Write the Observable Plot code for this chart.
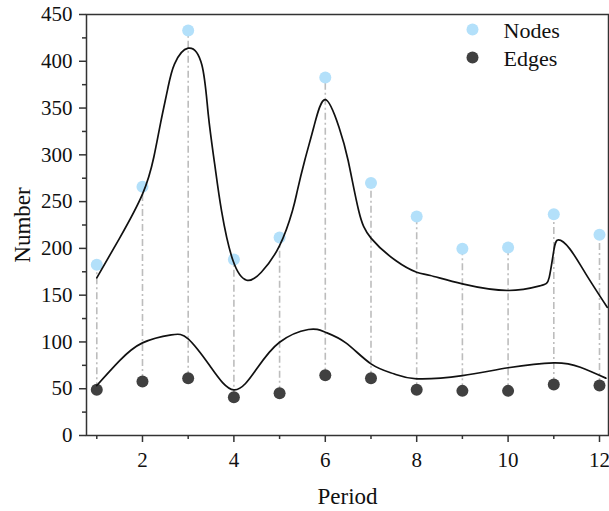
<!DOCTYPE html>
<html><head><meta charset="utf-8">
<script src="https://cdn.jsdelivr.net/npm/d3@7"></script>
<script src="https://cdn.jsdelivr.net/npm/@observablehq/plot@0.6"></script>
<style>body{margin:0;background:#fff} svg text{font-family:'Liberation Serif','Times New Roman',serif !important;}</style>
</head><body><div id="chart"></div>
<script>
const periods = [1,2,3,4,5,6,7,8,9,10,11,12];
const nodes = [182.5,266,433,188,211.6,382.6,270,234,199.5,201,236.5,214.5];
const edges = [48.8,57.7,61.3,41,45.2,64.5,61.3,48.8,47.7,47.7,54.5,53.4];

// fitted curves
const nodeFitX = [1,1.5,2,2.25,2.4,2.55,2.7,3,3.3,3.44,3.58,3.73,3.98,4.28,4.6,5.0,5.28,5.39,5.55,5.75,6,6.3,6.5,6.73,7.0,7.54,8,8.3,9,10,10.7,10.9,11,11.1,11.35,11.7,12.17];
const nodeFitY = [168.5,211,258,298,335,370,397,414,396,343,290,240,187,166,174.5,203,240,262,294,330,359,329.5,294,240.5,211,187,174.5,171,162,155,160,169,197.7,209,199.5,172.8,137];
const edgeFitX = [1,1.5,2,2.63,3,3.47,4,4.5,5,5.63,6,6.45,7,7.5,8,9,10,11,11.58,12.14];
const edgeFitY = [53.4,80,99,107.6,103.3,74.8,48.8,71.3,99.7,113.3,110.4,99,76.6,66,60.6,64,72.4,77.7,73,61.3];

const yMajor = [0,50,100,150,200,250,300,350,400,450];
const yMinor = [25,75,125,175,225,275,325,375,425];
const xMajor = [2,4,6,8,10,12];
const xMinor = [1,3,5,7,9,11];

const seriesNames = ["Nodes","Edges"];
const seriesColors = ["#b3e0fa","#404040"];

const data = periods.map((p,i)=>({period:p, nodes:nodes[i], edges:edges[i]}));
const nodeFit = nodeFitX.map((x,i)=>({x, y:nodeFitY[i]}));
const edgeFit = edgeFitX.map((x,i)=>({x, y:edgeFitY[i]}));

const serif = "Liberation Serif";
const tickStyle = {stroke:"#333", strokeWidth:1.5, tickFormat:()=>"", label:null};
const legendMarks = seriesNames.flatMap((name,i)=>[
  Plot.dot([name],{frameAnchor:"top-right", dx:-136, dy:15+28*i, r:6, fill:seriesColors[i], stroke:null}),
  Plot.text([name],{frameAnchor:"top-right", dx:-105, dy:16+28*i, text:d=>d, textAnchor:"start", lineAnchor:"middle", fontSize:22, fontFamily:serif, fill:"#111"})
]);

const plot = Plot.plot({
  width:609, height:511,
  marginLeft:86, marginRight:1, marginTop:14, marginBottom:76,
  style:{fontFamily:serif, fontSize:"21px", color:"#111", background:"#fff", overflow:"visible"},
  x:{domain:[0.775,12.197]},
  y:{domain:[0,450]},
  marks:[
    Plot.ruleX(data,{x:"period", y1:"edges", y2:"nodes", stroke:"#bdbdbd", strokeWidth:1.6, strokeDasharray:"7,3,2,3"}),
    Plot.dot(data,{x:"period", y:"nodes", r:6, fill:seriesColors[0], stroke:null}),
    Plot.dot(data,{x:"period", y:"edges", r:6, fill:seriesColors[1], stroke:null}),
    Plot.line(nodeFit,{x:"x", y:"y", curve:"natural", stroke:"#111", strokeWidth:1.7}),
    Plot.line(edgeFit,{x:"x", y:"y", curve:"natural", stroke:"#111", strokeWidth:1.7}),
    Plot.frame({stroke:"#333", strokeWidth:1.5}),
    Plot.axisY({ticks:yMajor, tickSize:7, ...tickStyle}),
    Plot.axisY({ticks:yMinor, tickSize:4, ...tickStyle}),
    Plot.axisX({ticks:xMajor, tickSize:7, ...tickStyle}),
    Plot.axisX({ticks:xMinor, tickSize:4, ...tickStyle}),
    Plot.axisY({ticks:yMajor, tickSize:0, tickPadding:14, label:null, fontSize:21, fontFamily:serif, fontVariant:"normal", fill:"#111", stroke:null}),
    Plot.axisX({ticks:xMajor, tickSize:0, tickPadding:17, label:null, fontSize:21, fontFamily:serif, fontVariant:"normal", fill:"#111", stroke:null}),
    Plot.text(["Number"],{frameAnchor:"left", dx:-64, rotate:-90, text:d=>d, fontSize:23, fontFamily:serif, fill:"#111", lineAnchor:"middle", textAnchor:"middle"}),
    Plot.text(["Period"],{frameAnchor:"bottom", dy:61, text:d=>d, fontSize:23, fontFamily:serif, fill:"#111", lineAnchor:"middle", textAnchor:"middle"}),
    ...legendMarks
  ]
});
document.getElementById("chart").appendChild(plot);
</script>
</body></html>
